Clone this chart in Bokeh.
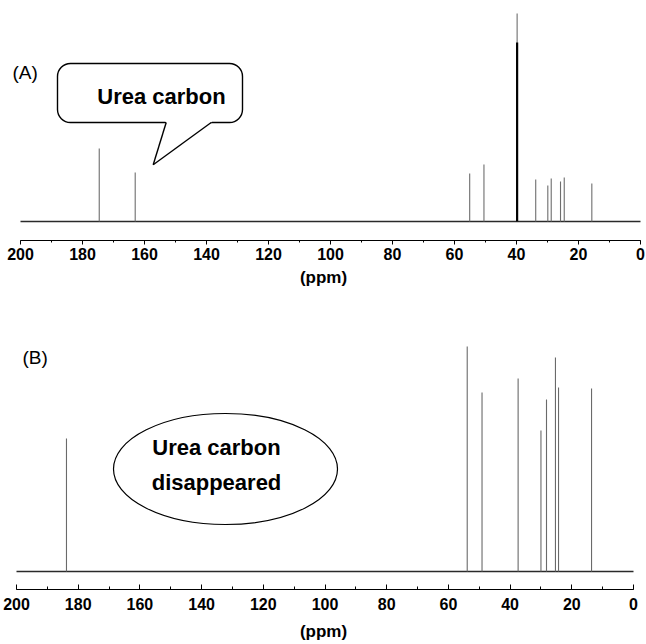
from bokeh.plotting import figure
from bokeh.layouts import column
from bokeh.models import Range1d, SingleIntervalTicker, BoxAnnotation, Label
from bokeh.embed import file_html
from bokeh.resources import INLINE

# ---------------- data ----------------
ppm_span = [200, 0]

# (A) spectrum peaks: chemical shift (ppm) and intensity (arb.)
a_ppm = [174.6, 163.0, 55.1, 50.5, 39.8, 33.8, 29.9, 28.8, 25.8, 24.6, 15.7]
a_int = [73, 49, 48, 57, 208, 42, 36, 43, 40, 44, 38]
a_solvent_index = 4  # DMSO solvent line

# (B) spectrum peaks
b_ppm = [183.8, 53.9, 49.1, 37.4, 30.0, 28.2, 25.3, 24.3, 13.6]
b_int = [133, 225, 179, 193, 141, 172, 214, 184, 183]

tick_interval = 20
FONT = "Liberation Sans"


def style_axis(p, tick_in, tick_out, minor_in, minor_out, lab_standoff, ax_standoff):
    ax = p.xaxis[0]
    ax.ticker = SingleIntervalTicker(interval=tick_interval, num_minor_ticks=2)
    ax.bounds = (min(ppm_span), max(ppm_span))
    ax.axis_label = "(ppm)"
    ax.axis_label_text_font = FONT
    ax.axis_label_text_font_style = "bold"
    ax.axis_label_text_font_size = "17px"
    ax.axis_label_text_color = "black"
    ax.axis_label_standoff = ax_standoff
    ax.major_label_text_font = FONT
    ax.major_label_text_font_style = "bold"
    ax.major_label_text_font_size = "16px"
    ax.major_label_text_color = "black"
    ax.major_label_standoff = lab_standoff
    ax.axis_line_color = "black"
    ax.axis_line_width = 1
    ax.major_tick_line_color = "black"
    ax.minor_tick_line_color = "black"
    ax.major_tick_in = tick_in
    ax.major_tick_out = tick_out
    ax.minor_tick_in = minor_in
    ax.minor_tick_out = minor_out


W = 646

# ---------------- panel A ----------------
A_H = 292
A_frame_h = 240
a_px0, a_px200 = 640.0, 20.0  # screen x of 0 and 200 ppm
a_scale = (a_px0 - a_px200) / 200.0


def a_x(sx):
    return 200 - (sx - a_px200) / a_scale


def a_y(sy):
    return 221 - sy


p1 = figure(width=W, height=A_H, output_backend="svg", toolbar_location=None,
            x_range=Range1d(a_x(0), a_x(W)), y_range=Range1d(a_y(A_frame_h), a_y(0)),
            y_axis_location=None, min_border_left=0, min_border_right=0,
            min_border_top=0, min_border_bottom=A_H - A_frame_h,
            outline_line_color=None, background_fill_color="white",
            border_fill_color="white")
p1.grid.visible = False
style_axis(p1, 0, 4, 0, 2, 3, 5)

p1.line(x=ppm_span, y=[0, 0], line_color="#2a2a2a", line_width=1.6)
p1.segment(x0=a_ppm, y0=[0] * len(a_ppm), x1=a_ppm, y1=a_int,
           line_color="#6e6e6e", line_width=1.1)
p1.segment(x0=[a_ppm[a_solvent_index]], y0=[0], x1=[a_ppm[a_solvent_index]],
           y1=[a_int[a_solvent_index] * 0.86], line_color="black", line_width=2.2)

p1.add_layout(Label(x=a_x(12), y=a_y(72), text="(A)", text_font=FONT,
                    text_font_size="19px", text_color="black",
                    text_align="left", text_baseline="middle"))

bubble = BoxAnnotation(left=a_x(57), right=a_x(242), top=a_y(63), bottom=a_y(122),
                       fill_color="white", fill_alpha=1.0, line_color="black",
                       line_alpha=1.0, line_width=1.4, border_radius=13)
p1.add_layout(bubble)
tail_x = [a_x(164.5), a_x(211.8), a_x(210.7), a_x(152.7), a_x(165.7)]
tail_y = [a_y(120.3), a_y(120.3), a_y(122), a_y(164.3), a_y(122)]
r = p1.patch(x=tail_x, y=tail_y, fill_color="white", line_color=None)
r.level = "overlay"
r = p1.multi_line(xs=[[a_x(165.7), a_x(152.7)], [a_x(210.7), a_x(152.7)]],
                  ys=[[a_y(122), a_y(164.3)], [a_y(122), a_y(164.3)]],
                  line_color="black", line_width=1.4)
r.level = "overlay"
p1.add_layout(Label(x=a_x(161), y=a_y(96), text="Urea carbon", text_font=FONT,
                    text_font_style="bold", text_font_size="22px",
                    text_color="black", text_align="center",
                    text_baseline="middle"))

# ---------------- panel B ----------------
B_top = A_H  # screen y of figure top
B_H = 644 - B_top
B_frame_h = 589 - B_top
b_px0, b_px200 = 633.0, 16.0
b_scale = (b_px0 - b_px200) / 200.0


def b_x(sx):
    return 200 - (sx - b_px200) / b_scale


def b_y(sy):
    return 571 - sy


p2 = figure(width=W, height=B_H, output_backend="svg", toolbar_location=None,
            x_range=Range1d(b_x(0), b_x(W)), y_range=Range1d(b_y(589), b_y(B_top)),
            y_axis_location=None, min_border_left=0, min_border_right=0,
            min_border_top=0, min_border_bottom=B_H - B_frame_h,
            outline_line_color=None, background_fill_color="white",
            border_fill_color="white")
p2.grid.visible = False
style_axis(p2, 5, 0, 3, 0, 8, 9)

p2.line(x=ppm_span, y=[0, 0], line_color="#2a2a2a", line_width=1.6)
p2.segment(x0=b_ppm, y0=[0] * len(b_ppm), x1=b_ppm, y1=b_int,
           line_color="#6a6a6a", line_width=1.1)

p2.add_layout(Label(x=b_x(22), y=b_y(357), text="(B)", text_font=FONT,
                    text_font_size="19px", text_color="black",
                    text_align="left", text_baseline="middle"))
p2.ellipse(x=[b_x(225)], y=[b_y(468.5)], width=[224], height=[111],
           width_units="screen", height_units="screen",
           fill_color="white", line_color="black", line_width=1.2)
for txt, sy in [("Urea carbon", 446.7), ("disappeared", 482.3)]:
    p2.add_layout(Label(x=b_x(216), y=b_y(sy), text=txt, text_font=FONT,
                        text_font_style="bold", text_font_size="22px",
                        text_color="black", text_align="center",
                        text_baseline="middle"))

layout = column(p1, p2, spacing=0)
open("out.html", "w").write(file_html(layout, INLINE))
